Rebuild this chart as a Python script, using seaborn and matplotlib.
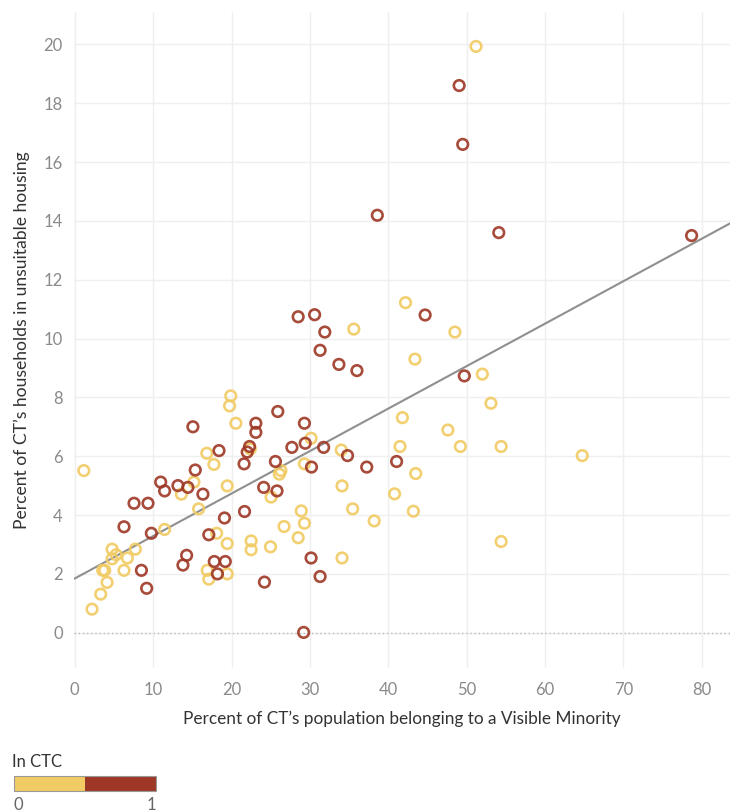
import pandas as pd
import matplotlib
matplotlib.use('Agg')
import matplotlib.pyplot as plt
from matplotlib.colors import ListedColormap, Normalize
import matplotlib.cm as cm
import seaborn as sns
import numpy as np

# CTs not in CTC (0)
x_out = [1.15, 2.2, 3.31, 4.12, 3.57, 3.82, 4.76, 4.76, 5.27, 6.71, 7.73, 6.28,
         11.46, 15.8, 18.1, 19.45, 16.9, 17.1, 19.45, 19.9, 19.75, 20.55, 16.85,
         17.75, 15.2, 13.6, 19.45, 30.15, 22.4, 29.3, 34.0, 26.3, 26.1, 25.05,
         34.1, 40.8, 41.8, 41.5, 35.45, 28.9, 29.3, 26.7, 28.5, 22.5, 22.5, 24.97,
         34.1, 38.2, 42.2, 48.5, 43.4, 52.0, 53.1, 47.6, 49.2, 54.4, 64.75, 43.5,
         43.2, 54.4, 35.6, 51.2]
y_out = [5.51, 0.80, 1.31, 1.71, 2.12, 2.12, 2.84, 2.51, 2.65, 2.54, 2.84, 2.12,
         3.51, 4.21, 3.38, 3.03, 2.12, 1.82, 2.0, 8.05, 7.71, 7.12, 6.1,
         5.72, 5.12, 4.71, 4.99, 6.61, 6.25, 5.74, 6.21, 5.51, 5.39, 4.61,
         4.99, 4.72, 7.31, 6.33, 4.21, 4.14, 3.72, 3.61, 3.23, 3.12, 2.82, 2.92,
         2.54, 3.8, 11.22, 10.22, 9.3, 8.79, 7.8, 6.89, 6.33, 6.33, 6.02, 5.41,
         4.13, 3.1, 10.32, 19.93]

# CTs in CTC (1)
x_in = [6.28, 9.77, 8.5, 9.17, 14.27, 13.8, 17.1, 19.1, 17.8, 19.2, 18.2, 21.66,
        7.56, 9.34, 15.07, 18.4, 15.37, 10.96, 11.46, 13.16, 14.43, 16.35,
        25.9, 23.1, 23.1, 22.3, 22.0, 21.6, 29.3, 29.4, 27.7, 31.75, 25.6, 30.2,
        34.8, 37.25, 41.06, 24.1, 25.8, 30.15, 31.3, 24.2, 29.2, 44.7, 49.7,
        28.5, 30.6, 31.9, 31.3, 33.7, 36.0, 49.04, 49.5, 38.6, 54.1, 78.7]
y_in = [3.6, 3.38, 2.12, 1.51, 2.63, 2.3, 3.33, 3.9, 2.42, 2.42, 2.0, 4.12,
        4.4, 4.4, 7.0, 6.19, 5.53, 5.12, 4.82, 5.0, 4.94, 4.71,
        7.52, 7.12, 6.81, 6.33, 6.14, 5.74, 7.12, 6.44, 6.3, 6.3, 5.82, 5.63,
        6.02, 5.63, 5.82, 4.94, 4.82, 2.54, 1.91, 1.72, 0.01, 10.8, 8.73,
        10.74, 10.81, 10.22, 9.6, 9.12, 8.91, 18.6, 16.6, 14.19, 13.6, 13.5]

yellow = '#F1CB63'
red = '#9E3726'

df = pd.DataFrame({
    'vm': x_out + x_in,
    'unsuitable': y_out + y_in,
    'in_ctc': [0] * len(x_out) + [1] * len(x_in),
})

sns.set_style('white')
plt.rcParams['font.family'] = ['Lato', 'DejaVu Sans']

fig = plt.figure(figsize=(7.34, 8.11), dpi=100)
ax = fig.add_axes([74 / 734, 1 - 668 / 811, 656 / 734, 656 / 811])
ax.set_xlim(-0.1, 83.6)
ax.set_ylim(-1.2, 21.1)

# gridlines
ax.set_xticks(range(0, 81, 10))
ax.set_yticks(range(0, 21, 2))
ax.grid(True, color='#efefef', linewidth=1)
ax.axhline(0, color='#bbbbbb', linestyle=(0, (1, 2)), linewidth=1, zorder=1)

sns.scatterplot(data=df, x='vm', y='unsuitable', hue='in_ctc',
                palette={0: yellow, 1: red}, s=58, linewidth=1.9,
                legend=False, ax=ax, zorder=3)
pts = ax.collections[-1]
pts.set_edgecolors(pts.get_facecolors())
pts.set_facecolors('none')
pts.set_alpha(0.9)

# trend line across the whole axis
sns.regplot(data=df, x='vm', y='unsuitable', scatter=False, ci=None,
            truncate=False, color='#8f8f8f', line_kws={'linewidth': 1.5},
            ax=ax)
ax.set_xlim(-0.1, 83.6)

for s in ax.spines.values():
    s.set_visible(False)
ax.tick_params(axis='both', length=0, labelsize=12, labelcolor='#8a8a8a')
ax.tick_params(axis='x', pad=10)
ax.tick_params(axis='y', pad=8)
ax.set_xlabel('Percent of CT\u2019s population belonging to a Visible Minority',
              fontsize=12.4, color='#333333', labelpad=9)
ax.set_ylabel('Percent of CT\u2019s households in unsuitable housing',
              fontsize=12.6, color='#333333', labelpad=10)

# legend colour strip
cax = fig.add_axes([14 / 734, 1 - 791 / 811, 142 / 734, 15 / 811])
cb = fig.colorbar(cm.ScalarMappable(norm=Normalize(0, 1),
                                    cmap=ListedColormap([yellow, red])),
                  cax=cax, orientation='horizontal', ticks=[0, 1])
cb.outline.set_edgecolor('#999999')
cb.outline.set_linewidth(0.8)
cax.tick_params(length=0, labelsize=12, labelcolor='#666666', pad=4)
labs = cax.get_xticklabels()
labs[0].set_ha('left')
labs[1].set_ha('right')
fig.text(12 / 734, 1 - 762 / 811, 'In CTC', fontsize=12, color='#333333',
         va='center', ha='left')

fig.savefig('out.png', dpi=100)
